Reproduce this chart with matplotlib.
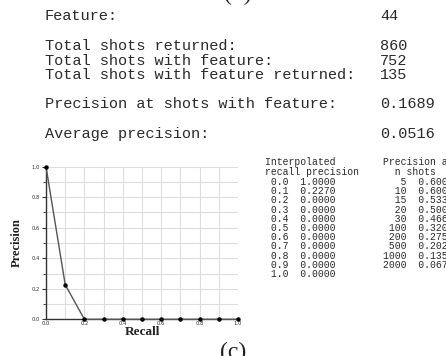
import matplotlib
matplotlib.use("Agg")
import matplotlib.pyplot as plt
import numpy as np

# ---- data ----
summary_labels = ["Feature:", "Total shots returned:", "Total shots with feature:",
                  "Total shots with feature returned:", "Precision at shots with feature:",
                  "Average precision:"]
summary_values = ["44", "860", "752", "135", "0.1689", "0.0516"]

recall_levels = [0.0, 0.1, 0.2, 0.3, 0.4, 0.5, 0.6, 0.7, 0.8, 0.9, 1.0]
interp_precision = [1.0000, 0.2270, 0.0, 0.0, 0.0, 0.0, 0.0, 0.0, 0.0, 0.0, 0.0]

n_shots = [5, 10, 15, 20, 30, 100, 200, 500, 1000, 2000]
prec_at_n = [0.6000, 0.6000, 0.5333, 0.5000, 0.4667, 0.3200, 0.2750, 0.2020, 0.1350, 0.0675]

W, H = 446, 356
fig = plt.figure(figsize=(W / 100, H / 100), dpi=100)
fig.patch.set_facecolor("white")

def px(x, y):
    return x / W, 1 - y / H

mono = "Liberation Mono"
tc = "#2a2a2a"

# summary block
label_y = [16, 46, 61, 75, 104, 134]
for lab, val, yy in zip(summary_labels, summary_values, label_y):
    fig.text(*px(45, yy), lab, family=mono, fontsize=11, color=tc, va="center", ha="left")
    fig.text(*px(380, yy), val, family=mono, fontsize=11, color=tc, va="center", ha="left")

# top cut-off caption
fig.text(*px(238, -6), "(b)", family="Liberation Serif", fontsize=17, color="#222", ha="center", va="center")
# bottom caption
fig.text(*px(233, 352), "(c)", family="Liberation Serif", fontsize=17, color="#222", ha="center", va="center")

# PR chart
ax = fig.add_axes([46 / W, 36.7 / H, 192 / W, 152.6 / H])
ax.plot(recall_levels, interp_precision, color="#555555", lw=1.0, marker="o",
        markersize=2.2, markerfacecolor="black", markeredgecolor="black", zorder=3, clip_on=False)
ax.set_xlim(0, 1)
ax.set_ylim(0, 1)
ax.set_xticks(np.arange(0, 1.01, 0.2))
ax.set_xticks(np.arange(0, 1.01, 0.1), minor=True)
ax.set_yticks(np.arange(0, 1.01, 0.2))
ax.set_yticks(np.arange(0, 1.01, 0.1), minor=True)
ax.set_xticklabels(["0.0", "0.2", "0.4", "0.6", "0.8", "1.0"])
ax.set_yticklabels(["0.0", "0.2", "0.4", "0.6", "0.8", "1.0"])
ax.grid(True, which="both", color="#dddddd", lw=0.8, zorder=0)
ax.set_axisbelow(True)
for s in ["top", "right"]:
    ax.spines[s].set_visible(False)
for s in ["left", "bottom"]:
    ax.spines[s].set_color("#333333")
    ax.spines[s].set_linewidth(1.0)
ax.tick_params(axis="both", which="major", labelsize=3.8, length=3, width=0.8,
               colors="#333333", pad=1.5)
ax.tick_params(axis="x", which="major", length=0)
ax.tick_params(axis="y", which="minor", length=2, width=0.6, color="#333333")
ax.tick_params(axis="x", which="minor", length=0)
ax.set_xlabel("Recall", family="Liberation Serif", fontweight="bold", fontsize=9.5,
              color="#222", labelpad=0)
ax.set_ylabel("Precision", family="Liberation Serif", fontweight="bold", fontsize=9,
              color="#222", labelpad=6)

# interpolated table
fig.text(*px(265, 162), "Interpolated", family=mono, fontsize=7, color=tc, va="center")
fig.text(*px(265, 172), "recall precision", family=mono, fontsize=7, color=tc, va="center")
row_y = np.linspace(182, 274, len(recall_levels))
for r, p, yy in zip(recall_levels, interp_precision, row_y):
    fig.text(*px(265, yy), f" {r:.1f}  {p:.4f}", family=mono, fontsize=7, color=tc, va="center")

# precision at n table
fig.text(*px(383, 162), "Precision at", family=mono, fontsize=7, color=tc, va="center")
fig.text(*px(383, 172), "  n shots", family=mono, fontsize=7, color=tc, va="center")
for n, p, yy in zip(n_shots, prec_at_n, row_y):
    fig.text(*px(383, yy), f"{n:>4d}  {p:.4f}", family=mono, fontsize=7, color=tc, va="center")

fig.savefig("out.png", dpi=100, facecolor="white")
